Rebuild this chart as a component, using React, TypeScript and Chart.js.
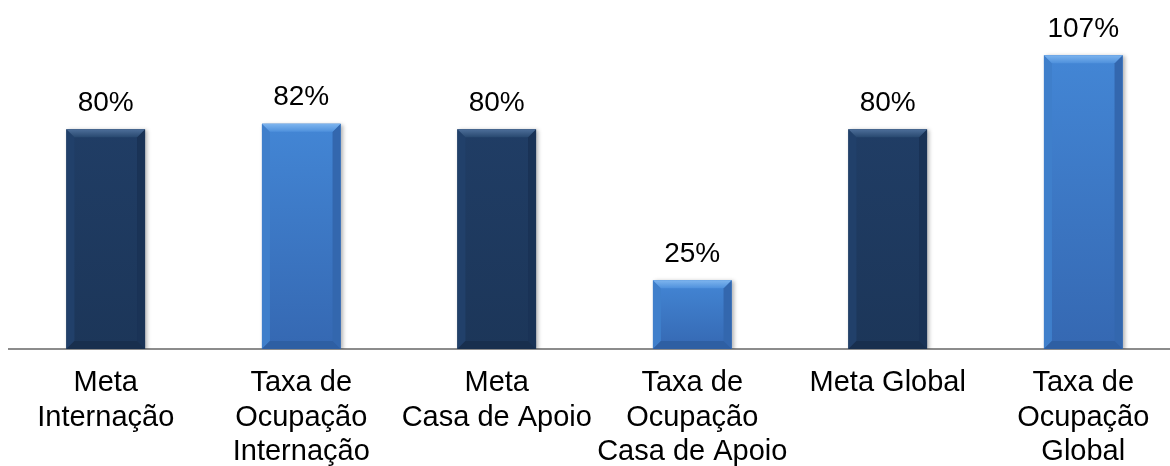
import React, { useEffect, useRef } from "react";
import { Chart, registerables } from "chart.js";

Chart.register(...registerables);

const categories: string[][] = [
  ["Meta", "Internação"],
  ["Taxa de", "Ocupação", "Internação"],
  ["Meta", "Casa de Apoio"],
  ["Taxa de", "Ocupação", "Casa de Apoio"],
  ["Meta Global"],
  ["Taxa de", "Ocupação", "Global"],
];

const values: number[] = [80, 82, 80, 25, 80, 107];

const valueSuffix = "%";

// style: 0 = meta (dark navy), 1 = taxa (light blue)
const barKinds: number[] = [0, 1, 0, 1, 0, 1];

const FONT = "'Liberation Sans', Arial, Helvetica, sans-serif";

const palettes = [
  {
    base: "#1F3B62",
    bodyTop: "#203D65",
    bodyBottom: "#1C3659",
    topHi: "#4D6E99",
    topLo: "#28486F",
    left: "#21406A",
    right: "#1A3356",
    bottom: "#182F4E",
  },
  {
    base: "#3E7ECC",
    bodyTop: "#4386D5",
    bodyBottom: "#3568B2",
    topHi: "#7DB4EE",
    topLo: "#4E90DC",
    left: "#3F7FCB",
    right: "#3367AE",
    bottom: "#2E5FA3",
  },
];

const bevelPlugin = {
  id: "bevelBars",
  beforeDatasetsDraw(chart: any) {
    const ctx = chart.ctx;
    ctx.save();
    ctx.shadowColor = "rgba(0,0,0,0.3)";
    ctx.shadowBlur = 4;
    ctx.shadowOffsetX = 2;
    ctx.shadowOffsetY = 1;
  },
  afterDatasetsDraw(chart: any) {
    const ctx = chart.ctx;
    ctx.restore();
    const meta = chart.getDatasetMeta(0);
    meta.data.forEach((el: any, i: number) => {
      const p = el.getProps(["x", "y", "base", "width"], true);
      const pal = palettes[barKinds[i]];
      const l = p.x - p.width / 2;
      const r = p.x + p.width / 2;
      const t = p.y;
      const b = p.base;
      const bv = Math.min(8, (b - t) / 3);
      ctx.save();
      const g = ctx.createLinearGradient(0, t, 0, b);
      g.addColorStop(0, pal.bodyTop);
      g.addColorStop(1, pal.bodyBottom);
      ctx.fillStyle = g;
      ctx.fillRect(l, t, r - l, b - t);
      ctx.fillStyle = pal.left;
      ctx.beginPath();
      ctx.moveTo(l, t);
      ctx.lineTo(l + bv, t + bv);
      ctx.lineTo(l + bv, b - bv);
      ctx.lineTo(l, b);
      ctx.closePath();
      ctx.fill();
      ctx.fillStyle = pal.right;
      ctx.beginPath();
      ctx.moveTo(r, t);
      ctx.lineTo(r - bv, t + bv);
      ctx.lineTo(r - bv, b - bv);
      ctx.lineTo(r, b);
      ctx.closePath();
      ctx.fill();
      ctx.fillStyle = pal.bottom;
      ctx.beginPath();
      ctx.moveTo(l, b);
      ctx.lineTo(l + bv, b - bv);
      ctx.lineTo(r - bv, b - bv);
      ctx.lineTo(r, b);
      ctx.closePath();
      ctx.fill();
      const tg = ctx.createLinearGradient(0, t, 0, t + bv);
      tg.addColorStop(0, pal.topHi);
      tg.addColorStop(1, pal.topLo);
      ctx.fillStyle = tg;
      ctx.beginPath();
      ctx.moveTo(l, t);
      ctx.lineTo(r, t);
      ctx.lineTo(r - bv, t + bv);
      ctx.lineTo(l + bv, t + bv);
      ctx.closePath();
      ctx.fill();
      ctx.restore();
    });
  },
};

const valueLabelPlugin = {
  id: "valueLabels",
  afterDatasetsDraw(chart: any) {
    const ctx = chart.ctx;
    const meta = chart.getDatasetMeta(0);
    ctx.save();
    ctx.font = `28px ${FONT}`;
    ctx.fillStyle = "#000000";
    ctx.textAlign = "center";
    ctx.textBaseline = "alphabetic";
    meta.data.forEach((el: any, i: number) => {
      const p = el.getProps(["x", "y"], true);
      ctx.fillText(`${values[i]}${valueSuffix}`, p.x, p.y - 18.5);
    });
    ctx.restore();
  },
};

export default function App() {
  const canvasRef = useRef<HTMLCanvasElement | null>(null);

  useEffect(() => {
    if (!canvasRef.current) return;
    const chart = new Chart(canvasRef.current, {
      type: "bar",
      data: {
        labels: categories,
        datasets: [
          {
            data: values,
            backgroundColor: barKinds.map((k) => palettes[k].base),
            borderWidth: 0,
            barPercentage: 0.402,
            categoryPercentage: 1,
          },
        ],
      },
      options: {
        animation: false,
        responsive: true,
        maintainAspectRatio: false,
        layout: { padding: 0 },
        plugins: {
          legend: { display: false },
          tooltip: { enabled: false },
          title: { display: false },
        },
        scales: {
          x: {
            offset: true,
            grid: { display: false, drawTicks: false },
            border: { display: true, color: "#8C8C8C", width: 2 },
            ticks: {
              color: "#000000",
              padding: 17,
              maxRotation: 0,
              minRotation: 0,
              autoSkip: false,
              font: { family: FONT, size: 29, lineHeight: 1.19 },
            },
            afterFit: (scale: any) => {
              scale.height = 117;
            },
          },
          y: {
            display: false,
            min: 0,
            max: 124.2,
          },
        },
      },
      plugins: [bevelPlugin, valueLabelPlugin],
    });
    return () => chart.destroy();
  }, []);

  return (
    <div
      style={{
        position: "fixed",
        left: 0,
        top: 0,
        width: 1170,
        height: 466,
        overflow: "hidden",
        background: "#ffffff",
      }}
    >
      <div style={{ position: "absolute", left: 8, top: 8, width: 1173, height: 458 }}>
        <canvas ref={canvasRef} />
      </div>
    </div>
  );
}
